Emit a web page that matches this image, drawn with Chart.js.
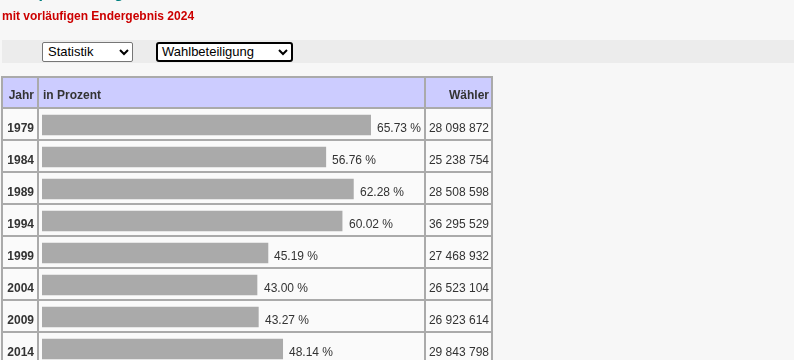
<!DOCTYPE html>
<html>
<head>
<meta charset="utf-8">
<script src="https://cdn.jsdelivr.net/npm/chart.js@4/dist/chart.umd.min.js"></script>
<style>
  html, body { margin:0; padding:0; width:794px; height:360px; overflow:hidden; background:#f7f7f7; font-family: Arial, "Liberation Sans", sans-serif; }
  #head { position:absolute; left:2px; top:-16px; font:bold 16px Arial, "Liberation Sans", sans-serif; line-height:18px; color:#008080; white-space:nowrap; }
  #title { position:absolute; left:2px; top:9px; font:bold 12px Arial, "Liberation Sans", sans-serif; line-height:14px; color:#cc0000; white-space:nowrap; }
  #band { position:absolute; left:2px; top:40px; width:792px; height:23px; background:#ececec; }
  .sel { position:absolute; top:42px; height:20px; box-sizing:border-box; background:#fff; font:13px Arial, "Liberation Sans", sans-serif; color:#000; line-height:18px; padding-left:5px; white-space:nowrap; }
  .sel svg { position:absolute; top:6px; }
  #s1 { left:42px; width:91px; border:1px solid #767676; border-radius:2px; }
  #s2 { left:156px; width:137px; border:2px solid #000; border-radius:3px; line-height:16px; padding-left:4px; }
  #c { position:absolute; left:0; top:0; }
</style>
</head>
<body>
<canvas id="c" width="794" height="400"></canvas>
<div id="head">Europawahl Ergebnisse</div>
<div id="title">mit vorläufigen Endergebnis 2024</div>
<div id="band"></div>
<div class="sel" id="s1">Statistik<svg style="left:76px" width="10" height="7" viewBox="0 0 10 7"><polyline points="1,1 5,5 9,1" fill="none" stroke="#000" stroke-width="2"/></svg></div>
<div class="sel" id="s2">Wahlbeteiligung<svg style="left:120px;top:5px" width="10" height="7" viewBox="0 0 10 7"><polyline points="1,1 5,5 9,1" fill="none" stroke="#000" stroke-width="2"/></svg></div>
<script>
const years = ['1979','1984','1989','1994','1999','2004','2009','2014'];
const turnout = [65.73, 56.76, 62.28, 60.02, 45.19, 43.00, 43.27, 48.14];
const voters = [28098872, 25238754, 28508598, 36295529, 27468932, 26523104, 26923614, 29843798];
const headers = ['Jahr', 'in Prozent', 'Wähler'];

function fmtVoters(n) {
  return String(n).replace(/\B(?=(\d{3})+(?!\d))/g, ' ');
}
function fmtPct(v) {
  return v.toFixed(2) + ' %';
}

const FONT = 'Arial, "Liberation Sans", sans-serif';
const BORDER = '#aaaaaa';

const tablePlugin = {
  id: 'tablePlugin',
  beforeDatasetsDraw(chart) {
    const ctx = chart.ctx;
    const ys = chart.scales.y;
    const H = chart.height;
    ctx.save();
    ctx.fillStyle = '#fafafa';
    ctx.fillRect(1, 76, 492, H - 76);
    ctx.fillStyle = '#ccccff';
    ctx.fillRect(3, 78, 488, 30);
    ctx.fillStyle = BORDER;
    ctx.fillRect(1, 76, 492, 2);
    [1, 37, 424, 491].forEach(x => ctx.fillRect(x, 76, 2, H - 76));
    years.forEach((y, i) => {
      const cy = ys.getPixelForValue(i);
      ctx.fillRect(1, Math.round(cy - 18), 492, 2);
    });
    ctx.restore();
  },
  afterDatasetsDraw(chart) {
    const ctx = chart.ctx;
    const ys = chart.scales.y;
    const xs = chart.scales.x;
    ctx.save();
    ctx.fillStyle = '#333333';
    ctx.textBaseline = 'alphabetic';
    ctx.font = 'bold 12px ' + FONT;
    ctx.textAlign = 'right';
    ctx.fillText(headers[0], 34, 99);
    ctx.textAlign = 'left';
    ctx.fillText(headers[1], 43, 99);
    ctx.textAlign = 'right';
    ctx.fillText(headers[2], 489, 99);
    years.forEach((yr, i) => {
      const cy = ys.getPixelForValue(i);
      ctx.font = 'bold 12px ' + FONT;
      ctx.textAlign = 'right';
      ctx.fillText(yr, 34, cy + 7);
      ctx.font = '12px ' + FONT;
      ctx.textAlign = 'left';
      const xe = xs.getPixelForValue(turnout[i]);
      ctx.fillText(fmtPct(turnout[i]), Math.round(xe + 6.5), cy + 7);
      ctx.textAlign = 'right';
      ctx.fillText(fmtVoters(voters[i]), 489, cy + 7);
    });
    ctx.restore();
  }
};

new Chart(document.getElementById('c'), {
  type: 'bar',
  data: {
    labels: years,
    datasets: [{
      data: turnout,
      backgroundColor: '#aaaaaa',
      borderWidth: 0,
      barThickness: 20
    }]
  },
  options: {
    indexAxis: 'y',
    responsive: false,
    devicePixelRatio: 1,
    animation: false,
    layout: { padding: { left: 42, right: 252, top: 109, bottom: 35 } },
    plugins: { legend: { display: false }, tooltip: { enabled: false } },
    scales: {
      x: { display: false, min: 0, max: 100 },
      y: { display: false }
    }
  },
  plugins: [tablePlugin]
});
</script>
</body>
</html>
